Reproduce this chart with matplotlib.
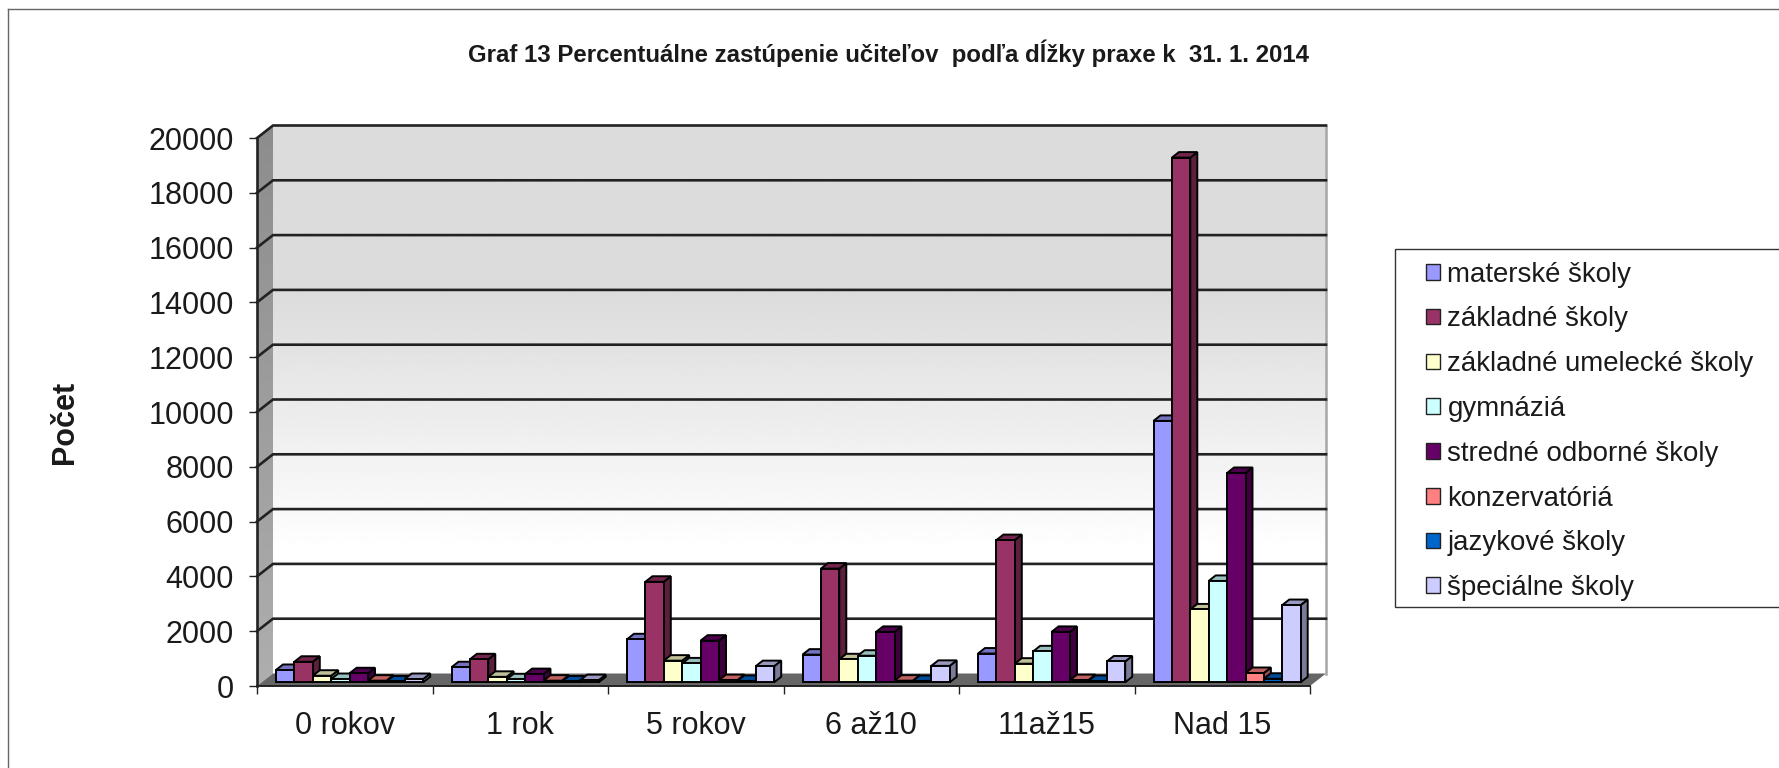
import matplotlib
matplotlib.use("Agg")
import matplotlib.pyplot as plt
import numpy as np
from matplotlib.colors import to_rgb
from matplotlib.lines import Line2D
from matplotlib.patches import Polygon, Rectangle

plt.rcParams["font.family"] = ["Liberation Sans", "DejaVu Sans"]

W, H = 1779, 768

title = "Graf 13 Percentuálne zastúpenie učiteľov  podľa dĺžky praxe k  31. 1. 2014"
ylabel = "Počet"
categories = ["0 rokov", "1 rok", "5 rokov", "6 až10", "11až15", "Nad 15"]
yticks = [0, 2000, 4000, 6000, 8000, 10000, 12000, 14000, 16000, 18000, 20000]

series_names = [
    "materské školy",
    "základné školy",
    "základné umelecké školy",
    "gymnáziá",
    "stredné odborné školy",
    "konzervatóriá",
    "jazykové školy",
    "špeciálne školy",
]
colors = ["#9999FF", "#993366", "#FFFFCC", "#CCFFFF", "#660066", "#FF8080", "#0066CC", "#CCCCFF"]

materske = [450, 550, 1570, 1010, 1050, 9540]
zakladne = [750, 840, 3670, 4150, 5190, 19150]
umelecke = [240, 200, 790, 840, 680, 2660]
gymnazia = [120, 110, 690, 970, 1130, 3700]
odborne = [330, 300, 1520, 1840, 1840, 7640]
konzervatoria = [60, 60, 80, 60, 80, 340]
jazykove = [30, 30, 50, 50, 50, 130]
specialne = [120, 80, 590, 600, 760, 2820]
series = [materske, zakladne, umelecke, gymnazia, odborne, konzervatoria, jazykove, specialne]

# front plane of the fake 3d box, in pixels
left, right, top, bottom = 257, 1310, 138, 686

fig = plt.figure(figsize=(W / 100, H / 100), dpi=100, facecolor="white")
ax = fig.add_axes([left / W, 1 - bottom / H, (right - left) / W, (bottom - top) / H])
ax.set_xlim(0, len(categories))
ax.set_ylim(0, yticks[-1])
ax.patch.set_visible(False)
for spine in ax.spines.values():
    spine.set_visible(False)

# pixel sizes in data units
px = len(categories) / (right - left)
py = yticks[-1] / (bottom - top)

wall_dx, wall_dy = 16 * px, 12.5 * py
bar_w = 18.4 * px
bar_dx, bar_dy = 7 * px, 5.5 * py
bar_base = 3.7 * py
bar_start = 19 * px
xmax, ymax = len(categories), yticks[-1]

# back wall with the grey to white fade
fade = np.interp(np.linspace(0, 1, 256), [0, 0.3, 0.78, 1], [0.86, 0.86, 1, 1]).reshape(-1, 1)
ax.imshow(fade, cmap="gray", vmin=0, vmax=1, aspect="auto", zorder=1, interpolation="bilinear",
          extent=(wall_dx, xmax + wall_dx, wall_dy, ymax + wall_dy), clip_on=False)

# side wall and floor
side = np.interp(np.linspace(0, 1, 128), [0, 1], [0.55, 0.68]).reshape(-1, 1)
im = ax.imshow(side, cmap="gray", vmin=0, vmax=1, aspect="auto", zorder=1.1, interpolation="bilinear",
               extent=(0, wall_dx, 0, ymax + wall_dy))
im.set_clip_path(Polygon([(0, 0), (wall_dx, wall_dy), (wall_dx, ymax + wall_dy), (0, ymax)],
                         transform=ax.transData))
im.set_clip_box(fig.bbox)
ax.set_xlim(0, xmax)
ax.set_ylim(0, ymax)
ax.add_patch(Polygon([(0, 0), (wall_dx, wall_dy), (xmax + wall_dx, wall_dy), (xmax, 0)],
                     fc="#666666", ec="none", zorder=1.2, clip_on=False))

# gridlines run round the side wall and across the back
for t in yticks[1:]:
    ax.plot([0, wall_dx, xmax + wall_dx], [t, t + wall_dy, t + wall_dy], color="#222222",
            lw=1.9, zorder=1.5, clip_on=False, solid_joinstyle="miter")
ax.plot([xmax + wall_dx] * 2, [wall_dy, ymax + wall_dy], color="#a6a6a6", lw=1.8, zorder=1.4, clip_on=False)
ax.plot([0, xmax], [0, 0], color="#222222", lw=1.4, zorder=1.5, clip_on=False)
ax.plot([0, 0], [0, ymax], color="#222222", lw=1.9, zorder=1.5, clip_on=False)

# bars, left to right so every front face hides the side of the one before
z = 2.0
for c in range(len(categories)):
    for s, values in enumerate(series):
        x = c + bar_start + s * bar_w
        h = values[c]
        rgb = np.array(to_rgb(colors[s]))
        ec = "black"
        ax.add_patch(Polygon([(x + bar_w, bar_base), (x + bar_w + bar_dx, bar_base + bar_dy),
                              (x + bar_w + bar_dx, bar_base + h + bar_dy), (x + bar_w, bar_base + h)],
                             fc=rgb * 0.6, ec=ec, lw=1.4, zorder=z, clip_on=False))
        ax.add_patch(Polygon([(x, bar_base + h), (x + bar_dx, bar_base + h + bar_dy),
                              (x + bar_w + bar_dx, bar_base + h + bar_dy), (x + bar_w, bar_base + h)],
                             fc=rgb * 0.75, ec=ec, lw=1.4, zorder=z, clip_on=False))
        ax.bar(x, h, bar_w, bottom=bar_base, align="edge", color=colors[s], edgecolor=ec, lw=1.4,
               zorder=z + 0.01, clip_on=False)
        z += 0.02

ax.set_xlim(0, xmax)
ax.set_ylim(0, ymax)

ax.set_yticks(yticks)
ax.set_xticks(range(len(categories) + 1))
ax.set_xticklabels([])
ax.set_xticks(np.arange(len(categories)) + 0.5, categories, minor=True)
ax.tick_params(axis="y", length=5.8, width=1, color="#222222", pad=11, labelsize=22, labelcolor="#1a1a1a")
ax.tick_params(axis="x", which="major", length=5.8, width=1, color="#222222")
ax.tick_params(axis="x", which="minor", length=0, pad=18, labelsize=22, labelcolor="#1a1a1a")

fig.text(889 / W, 1 - 53 / H, title, ha="center", va="center", fontsize=17.3, fontweight="bold", color="#1a1a1a")
fig.text(65 / W, 1 - 422 / H, ylabel, ha="center", va="center", rotation=90, fontsize=22, fontweight="bold",
         color="#1a1a1a")

# chart frame, cut off by the image on the right and at the bottom
frame = "#666666"
fig.add_artist(Line2D([8 / W, 8 / W], [0, 1 - 9 / H], color=frame, lw=1))
fig.add_artist(Line2D([8 / W, 1], [1 - 9 / H, 1 - 9 / H], color=frame, lw=1))

# legend box
fig.add_artist(Rectangle((1395 / W, 1 - 607 / H), (W - 1395 + 5) / W, (607 - 249) / H, fc="white", ec="#333333",
                         lw=1, transform=fig.transFigure))
handles = [Rectangle((0, 0), 1, 1, fc=col, ec="#222222", lw=1) for col in colors]
fig.legend(handles, series_names, loc="upper left", bbox_to_anchor=(1404 / W, 1 - 239.5 / H), frameon=False,
           fontsize=19.9, labelspacing=0.68, handlelength=0.5, handleheight=0.5, handletextpad=0.27,
           borderpad=0.3, labelcolor="#1a1a1a")

fig.savefig("out.png", dpi=100)
